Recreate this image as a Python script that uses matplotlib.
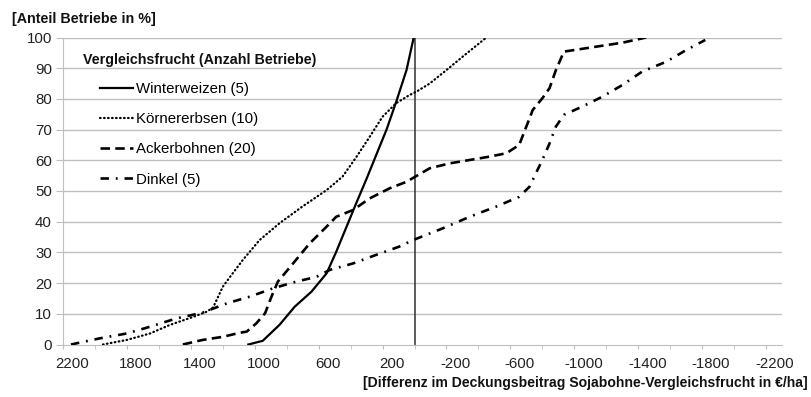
import matplotlib
matplotlib.use('Agg')
import matplotlib.pyplot as plt
import matplotlib.transforms as mtransforms
import numpy as np

plt.rcParams['font.family'] = ['Liberation Sans', 'DejaVu Sans']
plt.rcParams['axes.unicode_minus'] = False

# Differenz im Deckungsbeitrag [EUR/ha] und Anteil Betriebe [%]
ww_x = [1040, 950, 845, 750, 645, 550, 490, 425, 365, 300, 240, 175, 115, 50, 5]
ww_y = [0, 1.2, 6.4, 12.3, 17.2, 23.2, 30.2, 38.4, 46, 54, 61.7, 70, 79, 89.4, 100]

ke_x = [1950, 1800, 1655, 1530, 1385, 1300, 1260, 1200, 1155, 1075, 970, 845, 700,
        550, 450, 365, 280, 200, 115, 30, -10, -95, -200, -300, -450]
ke_y = [0, 1.5, 3.6, 6.4, 9, 10.7, 12.1, 18.8, 22, 27.5, 34, 39.5, 45,
        50.3, 54.7, 61, 67.7, 74.2, 78.6, 81.3, 82.3, 85, 89.4, 93.7, 100]

ab_x = [1450, 1325, 1200, 1095, 1050, 990, 935, 895, 855, 760, 655, 550, 490, 385,
        280, 155, 50, -95, -220, -345, -470, -575, -655, -700, -740, -800, -845,
        -885, -935, -1010, -1135, -1300, -1450]
ab_y = [0, 1.5, 2.5, 3.8, 4.2, 6.9, 10.2, 15.6, 20.5, 26.4, 33, 38.4, 41.6, 43.8,
        47.6, 50.9, 53, 57.4, 59, 60.1, 61.2, 62.3, 65, 71, 76.4, 80.2, 83.5,
        89.4, 95.4, 96, 97, 98.3, 100]

di_x = [2150, 1970, 1800, 1655, 1490, 1325, 1175, 1030, 885, 740, 615, 530, 385,
        240, 95, 10, -175, -345, -510, -655, -720, -760, -800, -845, -885, -935,
        -1050, -1175, -1300, -1425, -1575, -1700, -1820]
di_y = [0, 2, 3.6, 5.8, 8.5, 10.4, 13.4, 15.6, 18.3, 20.5, 22, 24.3, 26.4,
        29.2, 31.9, 34, 37.8, 41.6, 44.9, 48.1, 51.4, 55.8, 60.1, 65.5, 71, 74.8,
        77.5, 80.7, 84.5, 88.9, 92.1, 95.9, 99.2]

labels = ['Winterweizen (5)', 'Körnererbsen (10)', 'Ackerbohnen (20)', 'Dinkel (5)']
x_ticks = [2200, 1800, 1400, 1000, 600, 200, -200, -600, -1000, -1400, -1800, -2200]
y_ticks = list(range(0, 101, 10))

fig = plt.figure(figsize=(8.12, 3.97), dpi=100)
ax = fig.add_axes([63/812, 1 - 344.5/397, (782 - 63)/812, (344.5 - 37.5)/397])

grid_c = '#bfbfbf'
for yt in y_ticks[1:]:
    ax.axhline(yt, color=grid_c, lw=1.0, zorder=1)

ax.plot([0, 0], [0, 100], color='#303030', lw=1.1, zorder=2)

ax.plot(ww_x, ww_y, color='black', lw=1.6, label=labels[0], zorder=3)
ax.plot(ke_x, ke_y, color='black', lw=1.6, linestyle=(0, (0.3, 1.5)),
        dash_capstyle='round', label=labels[1], zorder=3)
ax.plot(ab_x, ab_y, color='black', lw=1.9, linestyle=(0, (3.6, 2.0)),
        label=labels[2], zorder=3)
ax.plot(di_x, di_y, color='black', lw=1.9, linestyle=(0, (3.2, 2.6, 0.7, 2.6)),
        label=labels[3], zorder=3)

ax.set_xlim(2200, -2300)
ax.set_ylim(0, 100)
ax.set_xticks(x_ticks)
ax.set_xticks(np.arange(2000, -2201, -400), minor=True)
ax.set_yticks(y_ticks)
ax.tick_params(axis='x', which='both', direction='out', length=3, color=grid_c,
               labelsize=10.8, pad=6, labelcolor='#222222')
ax.tick_params(axis='y', direction='out', length=5, color=grid_c,
               labelsize=10.8, pad=3, labelcolor='#222222')

# Excel setzt die Beschriftungen leicht rechts neben die Striche
offset = mtransforms.ScaledTranslation(9/100, 0, fig.dpi_scale_trans)
for lab in ax.get_xticklabels():
    lab.set_transform(lab.get_transform() + offset)

for s in ['top', 'right']:
    ax.spines[s].set_visible(False)
ax.spines['left'].set_color(grid_c)
ax.spines['bottom'].set_color(grid_c)

fig.text(12/812, 1 - 19/397, '[Anteil Betriebe in %]', fontsize=10.3,
         fontweight='bold', va='center', ha='left', color='#111111')
fig.text(808/812, 1 - 383/397,
         '[Differenz im Deckungsbeitrag Sojabohne-Vergleichsfrucht in €/ha]',
         fontsize=10.1, fontweight='bold', va='center', ha='right', color='#111111')
fig.text(83/812, 1 - 60/397, 'Vergleichsfrucht (Anzahl Betriebe)', fontsize=10.3,
         fontweight='bold', va='center', ha='left', color='#111111')

ax.legend(loc='upper left', bbox_to_anchor=(100/812, 1 - 82/397),
          bbox_transform=fig.transFigure, frameon=False, fontsize=10.8,
          handlelength=2.2, handletextpad=0.2, labelspacing=1.08,
          borderpad=0, borderaxespad=0)

plt.savefig('out.png', dpi=100)
